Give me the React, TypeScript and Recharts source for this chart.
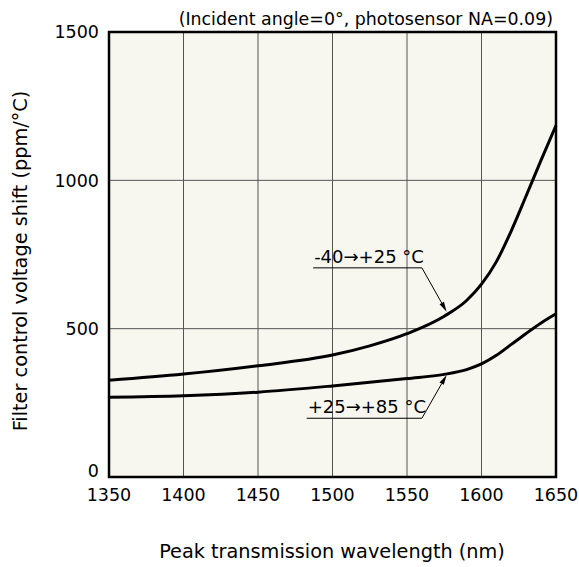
import {
  CartesianGrid,
  Line,
  LineChart,
  ReferenceArea,
  ReferenceLine,
  XAxis,
  YAxis,
} from 'recharts';

// wavelength (nm) vs control voltage shift (ppm/°C)
const wavelengths = [1350, 1400, 1450, 1500, 1525, 1550, 1575, 1590, 1600, 1610, 1620, 1630, 1640, 1650];
const coldToRoom = [326, 347, 375, 411, 442, 483, 542, 595, 650, 726, 830, 948, 1068, 1185];
const roomToHot = [269, 274, 286, 307, 319, 332, 346, 362, 381, 410, 447, 484, 519, 550];

const xTicks = [1350, 1400, 1450, 1500, 1550, 1600, 1650];
const yTicks = [0, 500, 1000, 1500];

const title = '(Incident angle=0°, photosensor NA=0.09)';
const xLabel = 'Peak transmission wavelength (nm)';
const yLabel = 'Filter control voltage shift (ppm/°C)';

// annotation callouts: underline span, underline level, arrow tip
const coldNote = { text: '-40→+25 °C', from: 1487, to: 1560, level: 705, tipX: 1576.6, tipY: 557 };
const hotNote = { text: '+25→+85 °C', from: 1482.7, to: 1560, level: 198, tipX: 1576.6, tipY: 344 };

const FONT = '"DejaVu Sans", Verdana, sans-serif';

const chartData = wavelengths.map((w, i) => ({
  w,
  cold: coldToRoom[i],
  hot: roomToHot[i],
}));

function YTick(props: any) {
  const { x, y, payload } = props;
  // the bottom label sits a little above the axis corner
  const lift = payload.value === 0 ? -6 : 0;
  return (
    <text
      x={x}
      y={y + lift}
      dy="0.355em"
      textAnchor="end"
      fontSize={17.5}
      fontFamily={FONT}
      fill="#000"
    >
      {payload.value}
    </text>
  );
}

function underlineShape(text: string) {
  return (props: any) => {
    const { x1, y1, x2, y2 } = props;
    return (
      <g>
        <line x1={x1} y1={y1} x2={x2} y2={y2} stroke="#000" strokeWidth={1} />
        <text x={x1 + 1} y={y1 - 5} fontSize={18} fontFamily={FONT} fill="#000">
          {text}
        </text>
      </g>
    );
  };
}

function arrowShape(props: any) {
  const { x1, y1, x2, y2 } = props;
  const dx = x2 - x1;
  const dy = y2 - y1;
  const len = Math.sqrt(dx * dx + dy * dy) || 1;
  const ux = dx / len;
  const uy = dy / len;
  const head = 10;
  const half = 2.5;
  const bx = x2 - ux * head;
  const by = y2 - uy * head;
  const pts = `${x2},${y2} ${bx - uy * half},${by + ux * half} ${bx + uy * half},${by - ux * half}`;
  return (
    <g>
      <line x1={x1} y1={y1} x2={bx} y2={by} stroke="#000" strokeWidth={1} />
      <polygon points={pts} fill="#000" />
    </g>
  );
}

export default function App() {
  return (
    <div style={{ position: 'absolute', left: 0, top: 0, width: 579, height: 567, background: '#fff' }}>
      <LineChart
        width={579}
        height={567}
        data={chartData}
        margin={{ top: 32, right: 23, bottom: 60, left: 39 }}
      >
        <CartesianGrid stroke="#555" strokeWidth={1} fill="#f7f7f0" fillOpacity={1} />
        <XAxis
          dataKey="w"
          type="number"
          domain={[1350, 1650]}
          ticks={xTicks}
          axisLine={false}
          tickLine={false}
          tickMargin={6}
          height={30}
          tick={{ fontSize: 17.5, fontFamily: FONT, fill: '#000' }}
        />
        <YAxis
          type="number"
          domain={[0, 1500]}
          ticks={yTicks}
          axisLine={false}
          tickLine={false}
          tickMargin={4}
          width={70}
          tick={<YTick />}
        />
        <Line
          type="monotone"
          dataKey="cold"
          stroke="#000"
          strokeWidth={3}
          dot={false}
          isAnimationActive={false}
        />
        <Line
          type="monotone"
          dataKey="hot"
          stroke="#000"
          strokeWidth={3}
          dot={false}
          isAnimationActive={false}
        />
        {[coldNote, hotNote].map((n) => (
          <ReferenceLine
            key={n.text}
            segment={[
              { x: n.from, y: n.level },
              { x: n.to, y: n.level },
            ]}
            shape={underlineShape(n.text)}
          />
        ))}
        {[coldNote, hotNote].map((n) => (
          <ReferenceLine
            key={n.text + '-arrow'}
            segment={[
              { x: n.to, y: n.level },
              { x: n.tipX, y: n.tipY },
            ]}
            shape={arrowShape}
          />
        ))}
        <ReferenceArea
          x1={1350}
          x2={1650}
          y1={0}
          y2={1500}
          fill="none"
          stroke="#000"
          strokeWidth={2.5}
        />
        <text x={553} y={25} textAnchor="end" fontSize={17.4} fontFamily={FONT} fill="#000">
          {title}
        </text>
        <text x={332} y={558} textAnchor="middle" fontSize={19.3} fontFamily={FONT} fill="#000">
          {xLabel}
        </text>
        <text
          x={20}
          y={261}
          textAnchor="middle"
          dominantBaseline="central"
          transform="rotate(-90 20 261)"
          fontSize={19.3}
          fontFamily={FONT}
          fill="#000"
        >
          {yLabel}
        </text>
      </LineChart>
    </div>
  );
}
